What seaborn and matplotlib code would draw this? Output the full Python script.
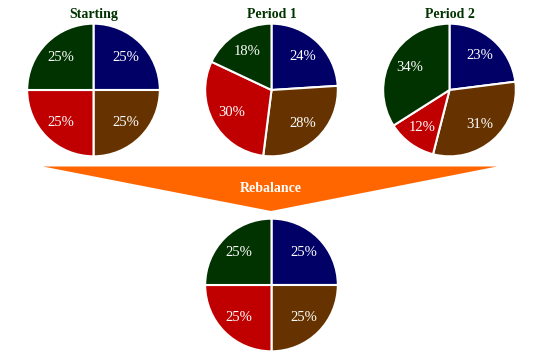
import matplotlib.pyplot as plt
import seaborn as sns
from matplotlib.patches import Polygon

# Données
categories = ["Bleu", "Marron", "Rouge", "Vert"]
titles = ["Starting", "Period 1", "Period 2", ""]
starting = [25, 25, 25, 25]
period1 = [24, 28, 30, 18]
period2 = [23, 31, 12, 34]
rebalanced = [25, 25, 25, 25]
arrow_label = "Rebalance"

sns.set_theme(style="white")
plt.rcParams['font.family'] = ['Liberation Serif', 'DejaVu Serif']

colors = sns.color_palette(["#000066", "#663300", "#C00000", "#003300"])

W, H = 545, 364
fig = plt.figure(figsize=(W / 100, H / 100), dpi=100)
fig.patch.set_facecolor("white")

# fond pour la flèche
bg = fig.add_axes([0, 0, 1, 1])
bg.set_xlim(0, W)
bg.set_ylim(H, 0)
bg.axis("off")
bg.add_patch(Polygon([(43, 166.5), (497, 166.5), (271, 211)], closed=True,
                     facecolor="#FF6600", edgecolor="none"))
bg.text(271, 188, arrow_label, color="white", fontsize=10, fontweight="bold",
        ha="center", va="center")

r = 67
centres = [(93.5, 90), (271.5, 90), (449.5, 90), (271.5, 285)]
series = [starting, period1, period2, rebalanced]

for (cx, cy), values, title in zip(centres, series, titles):
    ax = fig.add_axes([(cx - r) / W, (H - cy - r) / H, 2 * r / W, 2 * r / H])
    ax.pie(values, colors=colors, startangle=90, counterclock=False,
           autopct=lambda p: f"{p:.0f}%", pctdistance=0.69,
           wedgeprops=dict(edgecolor="white", linewidth=1.5),
           textprops=dict(color="white", fontsize=10.5))
    ax.set_xlim(-1.01, 1.01)
    ax.set_ylim(-1.01, 1.01)
    if title:
        bg.text(cx, 14.5, title, color="#003300", fontsize=10, fontweight="bold",
                ha="center", va="center")

fig.savefig("out.png", dpi=100, facecolor="white")
